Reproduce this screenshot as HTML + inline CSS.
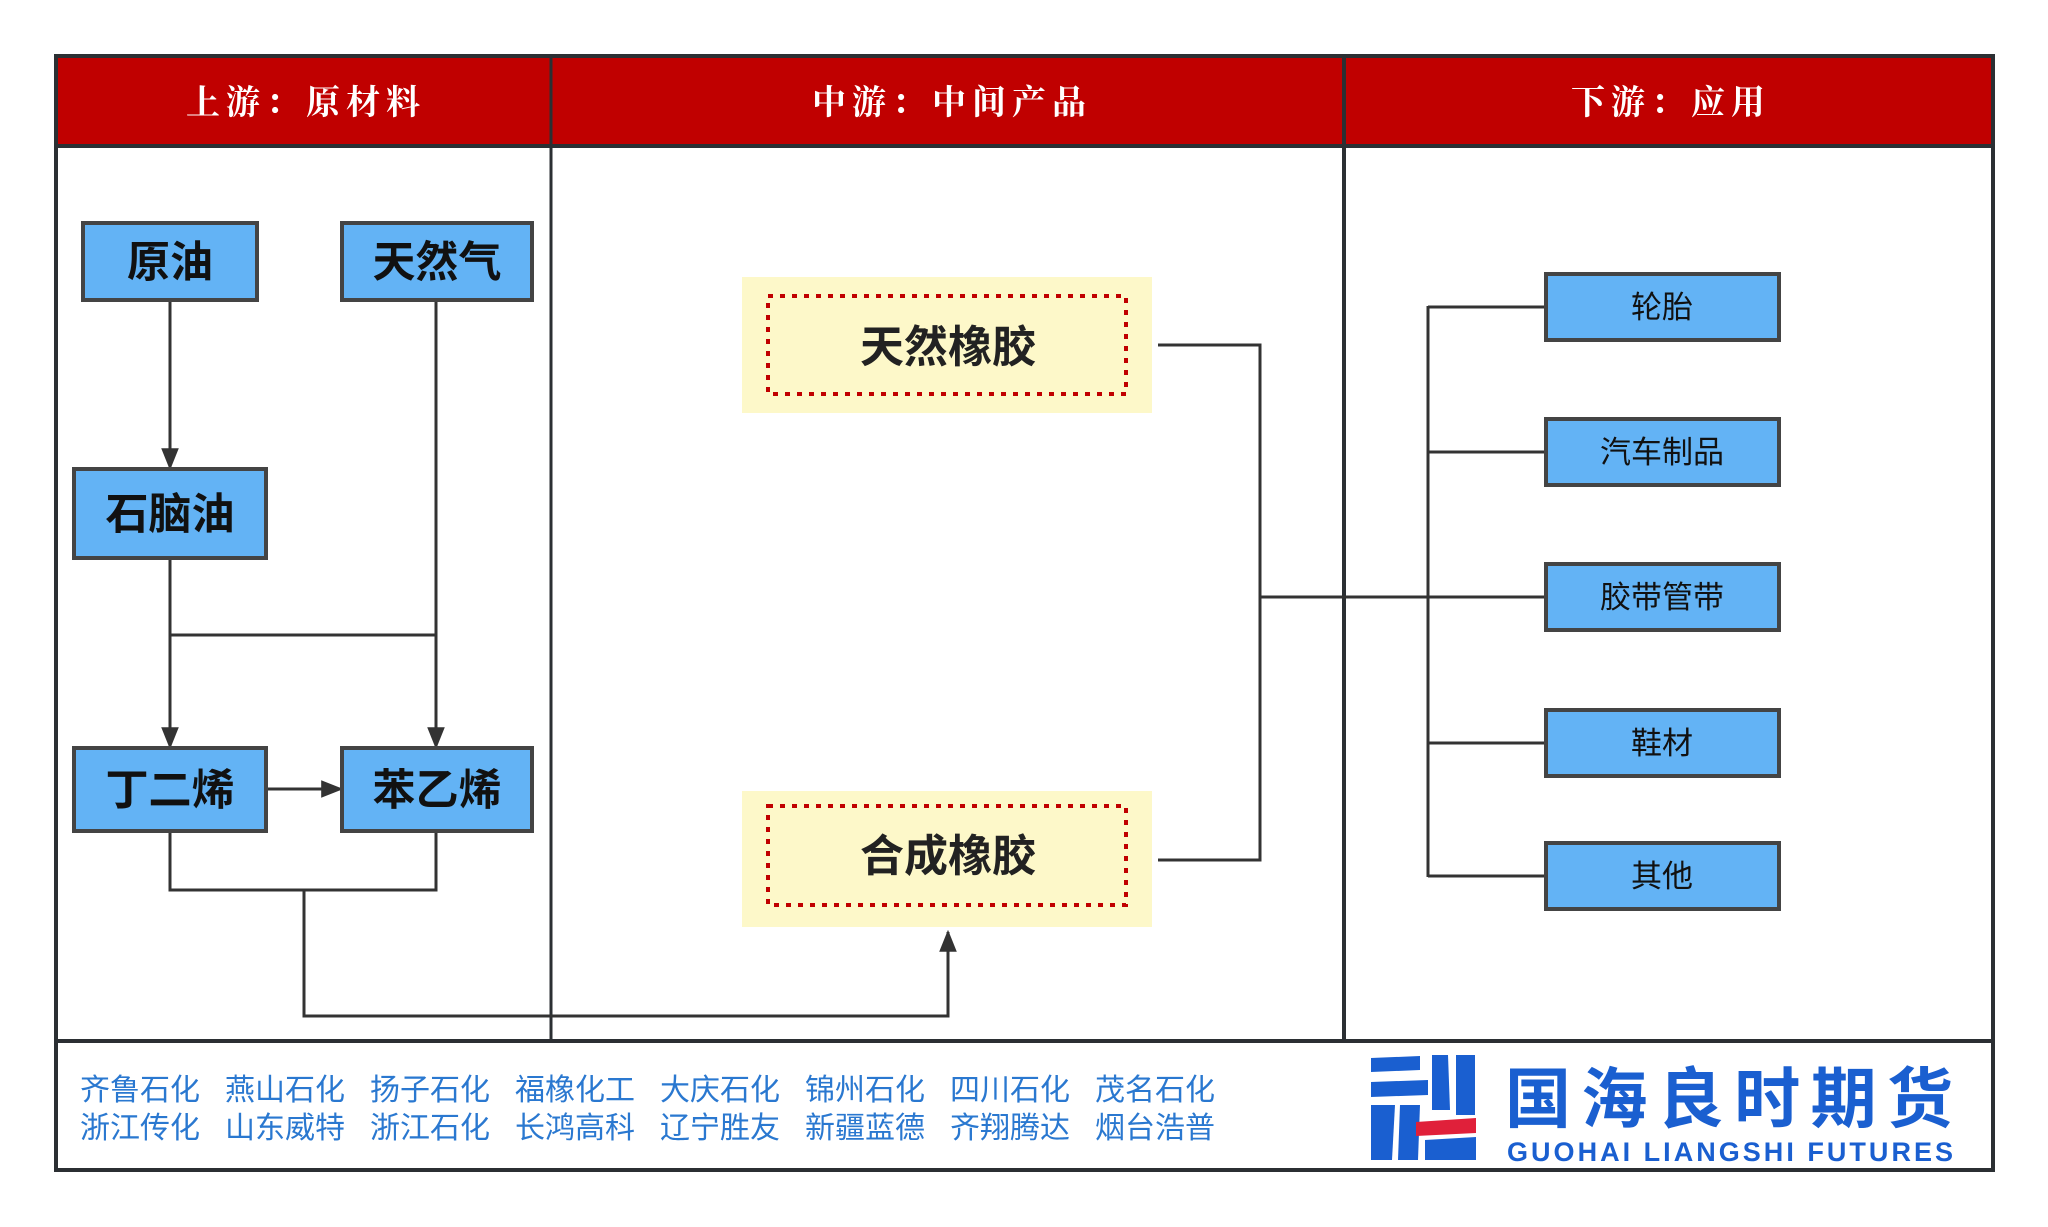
<!DOCTYPE html>
<html><head><meta charset="utf-8"><style>
html,body{margin:0;padding:0;background:#fff;}
svg{display:block;}
.h{font-family:"Noto Serif CJK SC","Liberation Serif",serif;font-weight:bold;font-size:34px;fill:#fff;letter-spacing:6px;}
.b{font-family:"Liberation Sans","Noto Sans CJK SC",sans-serif;font-weight:bold;font-size:43px;fill:#111;}
.m{font-family:"Liberation Sans","Noto Sans CJK SC",sans-serif;font-weight:bold;font-size:44px;fill:#222;}
.r{font-family:"Liberation Sans","Noto Sans CJK SC",sans-serif;font-size:31px;fill:#111;}
.f{font-family:"Liberation Sans","Noto Sans CJK SC",sans-serif;font-size:30px;fill:#2a78d0;}
</style></head><body>
<svg width="2048" height="1227" viewBox="0 0 2048 1227" xmlns="http://www.w3.org/2000/svg">
<defs>
<marker id="A" viewBox="0 0 10 10" refX="9" refY="5" markerWidth="22" markerHeight="22" orient="auto" markerUnits="userSpaceOnUse"><path d="M0,1 L10,5 L0,9z" fill="#333"/></marker></defs>
<rect x="56" y="56" width="1937" height="90" fill="#c00000"/>
<rect x="56" y="56" width="1937" height="1114" fill="none" stroke="#2b2f33" stroke-width="4"/>
<line x1="56" y1="146" x2="1993" y2="146" stroke="#2b2f33" stroke-width="4"/>
<line x1="56" y1="1041" x2="1993" y2="1041" stroke="#2b2f33" stroke-width="4"/>
<line x1="551" y1="56" x2="551" y2="1041" stroke="#2b2f33" stroke-width="3"/>
<line x1="1344" y1="56" x2="1344" y2="1041" stroke="#2b2f33" stroke-width="4"/>
<text class="h" x="306" y="114" text-anchor="middle">上游：原材料</text>
<text class="h" x="952" y="114" text-anchor="middle">中游：中间产品</text>
<text class="h" x="1671" y="114" text-anchor="middle">下游：应用</text>
<g stroke="#333" stroke-width="3" fill="none">
<line x1="170" y1="300" x2="170" y2="468" marker-end="url(#A)"/>
<line x1="436" y1="300" x2="436" y2="747" marker-end="url(#A)"/>
<line x1="170" y1="558" x2="170" y2="747" marker-end="url(#A)"/>
<line x1="170" y1="635" x2="436" y2="635"/>
<line x1="266" y1="789" x2="341" y2="789" marker-end="url(#A)"/>
<polyline points="170,831 170,890 436,890 436,831"/>
<polyline points="304,890 304,1016 948,1016 948,932" marker-end="url(#A)"/>
<polyline points="1158,345 1260,345 1260,860 1158,860"/>
<line x1="1260" y1="597" x2="1427" y2="597"/>
<line x1="1428" y1="306" x2="1428" y2="877"/>
<line x1="1428" y1="307" x2="1545" y2="307"/>
<line x1="1428" y1="452" x2="1545" y2="452"/>
<line x1="1428" y1="597" x2="1545" y2="597"/>
<line x1="1428" y1="743" x2="1545" y2="743"/>
<line x1="1428" y1="876" x2="1545" y2="876"/>
</g>
<g fill="#63b3f5" stroke="#444" stroke-width="4">
<rect x="83" y="223" width="174" height="77"/>
<rect x="342" y="223" width="190" height="77"/>
<rect x="74" y="469" width="192" height="89"/>
<rect x="74" y="748" width="192" height="83"/>
<rect x="342" y="748" width="190" height="83"/>
<rect x="1546" y="274" width="233" height="66"/>
<rect x="1546" y="419" width="233" height="66"/>
<rect x="1546" y="564" width="233" height="66"/>
<rect x="1546" y="710" width="233" height="66"/>
<rect x="1546" y="843" width="233" height="66"/>
</g>
<text class="b" x="170" y="277" text-anchor="middle">原油</text>
<text class="b" x="437" y="277" text-anchor="middle">天然气</text>
<text class="b" x="170" y="529" text-anchor="middle">石脑油</text>
<text class="b" x="170" y="805" text-anchor="middle">丁二烯</text>
<text class="b" x="437" y="805" text-anchor="middle">苯乙烯</text>
<rect x="742" y="277" width="410" height="136" fill="#fdf8c9"/>
<rect x="768" y="296" width="358" height="98" fill="none" stroke="#c00000" stroke-width="4" stroke-dasharray="5,7"/>
<text class="m" x="948" y="362" text-anchor="middle">天然橡胶</text>
<rect x="742" y="791" width="410" height="136" fill="#fdf8c9"/>
<rect x="768" y="806" width="358" height="99" fill="none" stroke="#c00000" stroke-width="4" stroke-dasharray="5,7"/>
<text class="m" x="948" y="871" text-anchor="middle">合成橡胶</text>
<text class="r" x="1662" y="318" text-anchor="middle">轮胎</text>
<text class="r" x="1662" y="463" text-anchor="middle">汽车制品</text>
<text class="r" x="1662" y="608" text-anchor="middle">胶带管带</text>
<text class="r" x="1662" y="754" text-anchor="middle">鞋材</text>
<text class="r" x="1662" y="887" text-anchor="middle">其他</text>
<g class="f">
<text class="f" x="80" y="1100">齐鲁石化</text><text class="f" x="225" y="1100">燕山石化</text><text class="f" x="370" y="1100">扬子石化</text><text class="f" x="515" y="1100">福橡化工</text><text class="f" x="660" y="1100">大庆石化</text><text class="f" x="805" y="1100">锦州石化</text><text class="f" x="950" y="1100">四川石化</text><text class="f" x="1095" y="1100">茂名石化</text>
<text class="f" x="80" y="1138">浙江传化</text><text class="f" x="225" y="1138">山东威特</text><text class="f" x="370" y="1138">浙江石化</text><text class="f" x="515" y="1138">长鸿高科</text><text class="f" x="660" y="1138">辽宁胜友</text><text class="f" x="805" y="1138">新疆蓝德</text><text class="f" x="950" y="1138">齐翔腾达</text><text class="f" x="1095" y="1138">烟台浩普</text>
</g>
<g fill="#1a5fd0">
<path d="M1371,1058 L1420,1056 L1420,1070 L1371,1072z"/>
<path d="M1371,1082 L1428,1080 L1428,1095 L1371,1097z"/>
<path d="M1371,1105 L1395,1105 L1392,1160 L1371,1160z"/>
<path d="M1400,1105 L1420,1105 L1418,1160 L1398,1160z"/>
<path d="M1432,1055 L1448,1055 L1450,1110 L1432,1110z"/>
<path d="M1456,1055 L1475,1055 L1475,1115 L1456,1115z"/>
<path d="M1425,1140 L1476,1137 L1476,1160 L1425,1160z"/>
</g>
<path d="M1416,1122 L1476,1118 L1476,1133 L1416,1136z" fill="#e0203a"/>
<text x="1505" y="1122" font-family="Liberation Sans,Noto Sans CJK SC,sans-serif" font-weight="bold" font-size="66" fill="#1a5fd0" textLength="448">国海良时期货</text>
<text x="1507" y="1161" font-family="Liberation Sans,sans-serif" font-weight="bold" font-size="27" fill="#1a5fd0" textLength="446">GUOHAI LIANGSHI FUTURES</text>
</svg>
</body></html>
